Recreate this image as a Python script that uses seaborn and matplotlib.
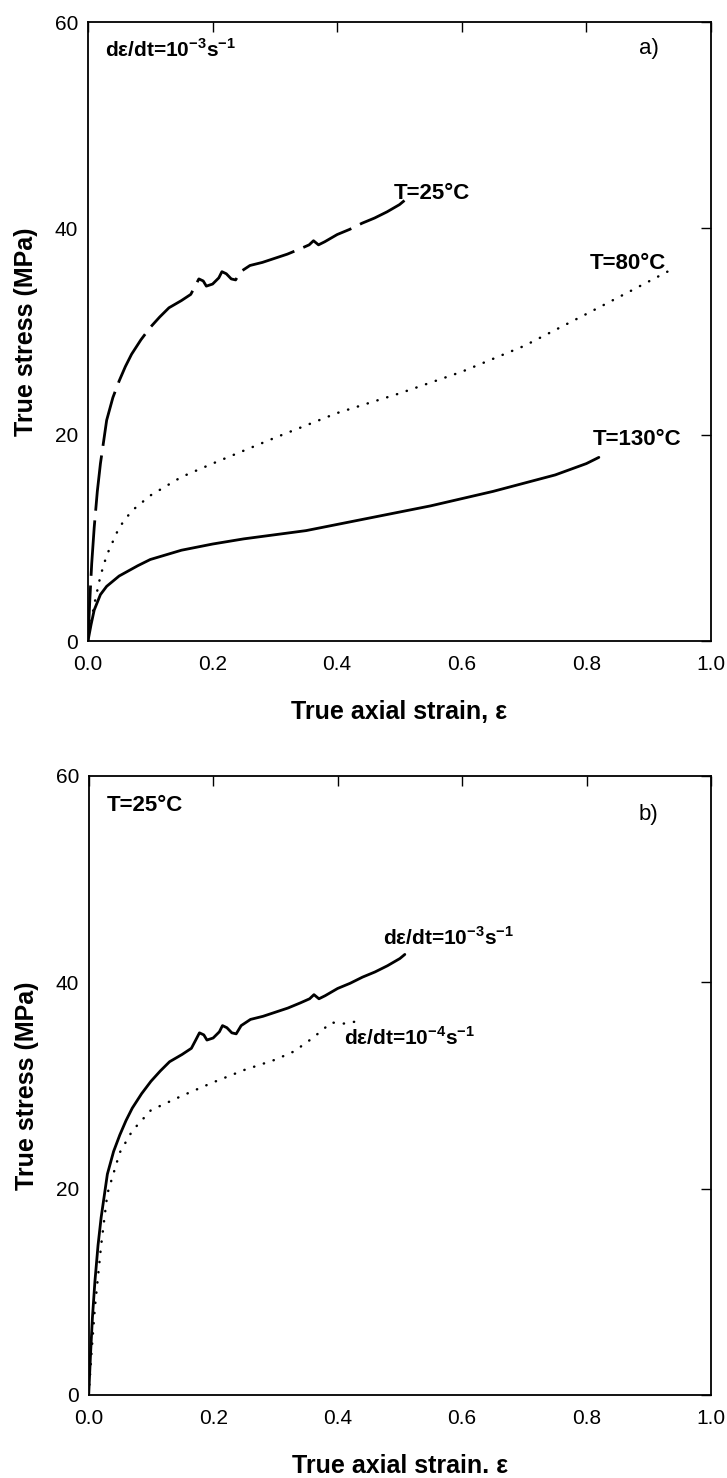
import numpy as np
import pandas as pd
import matplotlib
matplotlib.use("Agg")
import matplotlib.pyplot as plt
import seaborn as sns

# ==========================================
# DATA
# ==========================================
# T = 25 C, rate 1e-3 s^-1 (same test shown in both panels)
strain_25 = [0.0, 0.003, 0.006, 0.01, 0.015, 0.02, 0.03, 0.04, 0.05, 0.06, 0.07,
             0.085, 0.1, 0.115, 0.13, 0.15, 0.165, 0.172, 0.178, 0.185, 0.19, 0.2,
             0.21, 0.215, 0.222, 0.23, 0.237, 0.245, 0.26, 0.28, 0.3, 0.32, 0.34,
             0.355, 0.362, 0.37, 0.38, 0.4, 0.42, 0.44, 0.46, 0.48, 0.5, 0.508]
stress_25 = [0.0, 4.0, 7.5, 11.0, 14.5, 17.2, 21.4, 23.6, 25.2, 26.6, 27.8,
             29.2, 30.4, 31.4, 32.3, 33.0, 33.6, 34.4, 35.1, 34.9, 34.4, 34.6,
             35.2, 35.8, 35.6, 35.1, 35.0, 35.8, 36.4, 36.7, 37.1, 37.5, 38.0,
             38.4, 38.8, 38.4, 38.7, 39.4, 39.9, 40.5, 41.0, 41.6, 42.3, 42.7]

# T = 80 C, rate 1e-3 s^-1
strain_80 = [0.0, 0.005, 0.01, 0.02, 0.03, 0.05, 0.07, 0.1, 0.15, 0.2, 0.3,
             0.4, 0.5, 0.6, 0.7, 0.8, 0.87, 0.93]
stress_80 = [0.0, 1.8, 3.5, 6.3, 8.3, 11.0, 12.6, 14.1, 15.9, 17.2, 19.7,
             22.1, 24.0, 26.1, 28.6, 31.7, 33.9, 35.8]

# T = 130 C, rate 1e-3 s^-1
strain_130 = [0.0, 0.005, 0.01, 0.02, 0.03, 0.05, 0.08, 0.1, 0.15, 0.2, 0.25,
              0.3, 0.35, 0.4, 0.45, 0.5, 0.55, 0.6, 0.65, 0.7, 0.75, 0.8, 0.82]
stress_130 = [0.0, 1.6, 3.0, 4.5, 5.3, 6.3, 7.3, 7.9, 8.8, 9.4, 9.9,
              10.3, 10.7, 11.3, 11.9, 12.5, 13.1, 13.8, 14.5, 15.3, 16.1, 17.2, 17.8]

# T = 25 C, rate 1e-4 s^-1
strain_slow = [0.0, 0.005, 0.01, 0.02, 0.03, 0.05, 0.07, 0.1, 0.15, 0.2, 0.25,
               0.3, 0.33, 0.36, 0.39, 0.41, 0.43]
stress_slow = [0.0, 4.5, 8.5, 14.5, 19.5, 23.5, 25.6, 27.6, 29.0, 30.3, 31.5,
               32.5, 33.3, 34.6, 36.1, 36.0, 36.2]

x_ticks = [0.0, 0.2, 0.4, 0.6, 0.8, 1.0]
y_ticks = [0, 20, 40, 60]

# ==========================================
# STYLE
# ==========================================
sns.set_style("white")
plt.rcParams['font.family'] = ['Liberation Sans', 'DejaVu Sans']
plt.rcParams['mathtext.fontset'] = 'custom'
plt.rcParams['mathtext.rm'] = 'Liberation Sans'
plt.rcParams['mathtext.bf'] = 'Liberation Sans:bold'
for key in ['text.color', 'axes.labelcolor', 'xtick.color', 'ytick.color', 'axes.edgecolor']:
    plt.rcParams[key] = 'black'

fig = plt.figure(figsize=(7.27, 14.78), dpi=100)
ax_a = fig.add_axes([0.121, 0.5663, 0.857, 0.4188])
ax_b = fig.add_axes([0.122, 0.0562, 0.856, 0.4188])

dashed = (0, (20, 3.5))
dotted = (0, (0.1, 4.0))


def style_axes(ax, xlabel):
    ax.set_xlim(0, 1.0)
    ax.set_ylim(0, 60)
    ax.set_xticks(x_ticks)
    ax.set_yticks(y_ticks)
    ax.set_xticklabels([f"{t:.1f}" for t in x_ticks])
    ax.set_yticklabels([str(t) for t in y_ticks])
    ax.tick_params(direction='in', length=7, width=1, labelsize=15,
                   top=True, right=True, colors='black')
    ax.tick_params(axis='x', pad=10)
    ax.tick_params(axis='y', pad=7)
    for sp in ax.spines.values():
        sp.set_color('black')
        sp.set_linewidth(1.3)
    ax.set_xlabel(xlabel, fontsize=18, fontweight='bold', labelpad=19)
    ax.set_ylabel("True stress (MPa)", fontsize=18, fontweight='bold', labelpad=12)


rate3 = r"d$\mathbf{\varepsilon}$/dt=10$^{\mathbf{-3}}$s$^{\mathbf{-1}}$"
rate4 = r"d$\mathbf{\varepsilon}$/dt=10$^{\mathbf{-4}}$s$^{\mathbf{-1}}$"

# ==========================================
# PANEL a)
# ==========================================
df_25 = pd.DataFrame({'strain': strain_25, 'stress': stress_25})
df_80 = pd.DataFrame({'strain': strain_80, 'stress': stress_80})
df_130 = pd.DataFrame({'strain': strain_130, 'stress': stress_130})
df_slow = pd.DataFrame({'strain': strain_slow, 'stress': stress_slow})

sns.lineplot(data=df_25, x='strain', y='stress', ax=ax_a, sort=False, estimator=None,
             color='black', linewidth=2.0, linestyle=dashed)
sns.lineplot(data=df_80, x='strain', y='stress', ax=ax_a, sort=False, estimator=None,
             color='black', linewidth=1.8, linestyle=dotted, dash_capstyle='round')
sns.lineplot(data=df_130, x='strain', y='stress', ax=ax_a, sort=False, estimator=None,
             color='black', linewidth=2.0)

style_axes(ax_a, "True axial strain, ε")
ax_a.text(0.027, 0.955, rate3, transform=ax_a.transAxes, fontsize=15,
          fontweight='bold', va='center', ha='left')
ax_a.text(0.884, 0.958, "a)", transform=ax_a.transAxes, fontsize=16, va='center', ha='left')
ax_a.text(0.49, 43.4, "T=25°C", fontsize=16, fontweight='bold', va='center', ha='left')
ax_a.text(0.805, 36.6, "T=80°C", fontsize=16, fontweight='bold', va='center', ha='left')
ax_a.text(0.81, 19.5, "T=130°C", fontsize=16, fontweight='bold', va='center', ha='left')

# ==========================================
# PANEL b)
# ==========================================
sns.lineplot(data=df_25, x='strain', y='stress', ax=ax_b, sort=False, estimator=None,
             color='black', linewidth=2.0)
sns.lineplot(data=df_slow, x='strain', y='stress', ax=ax_b, sort=False, estimator=None,
             color='black', linewidth=1.8, linestyle=dotted, dash_capstyle='round')

style_axes(ax_b, "True axial strain. ε")
ax_b.text(0.029, 0.953, "T=25°C", transform=ax_b.transAxes, fontsize=16,
          fontweight='bold', va='center', ha='left')
ax_b.text(0.884, 0.937, "b)", transform=ax_b.transAxes, fontsize=16, va='center', ha='left')
ax_b.text(0.473, 44.3, rate3, fontsize=15, fontweight='bold', va='center', ha='left')
ax_b.text(0.41, 34.6, rate4, fontsize=15, fontweight='bold', va='center', ha='left')

fig.savefig("out.png", dpi=100)
